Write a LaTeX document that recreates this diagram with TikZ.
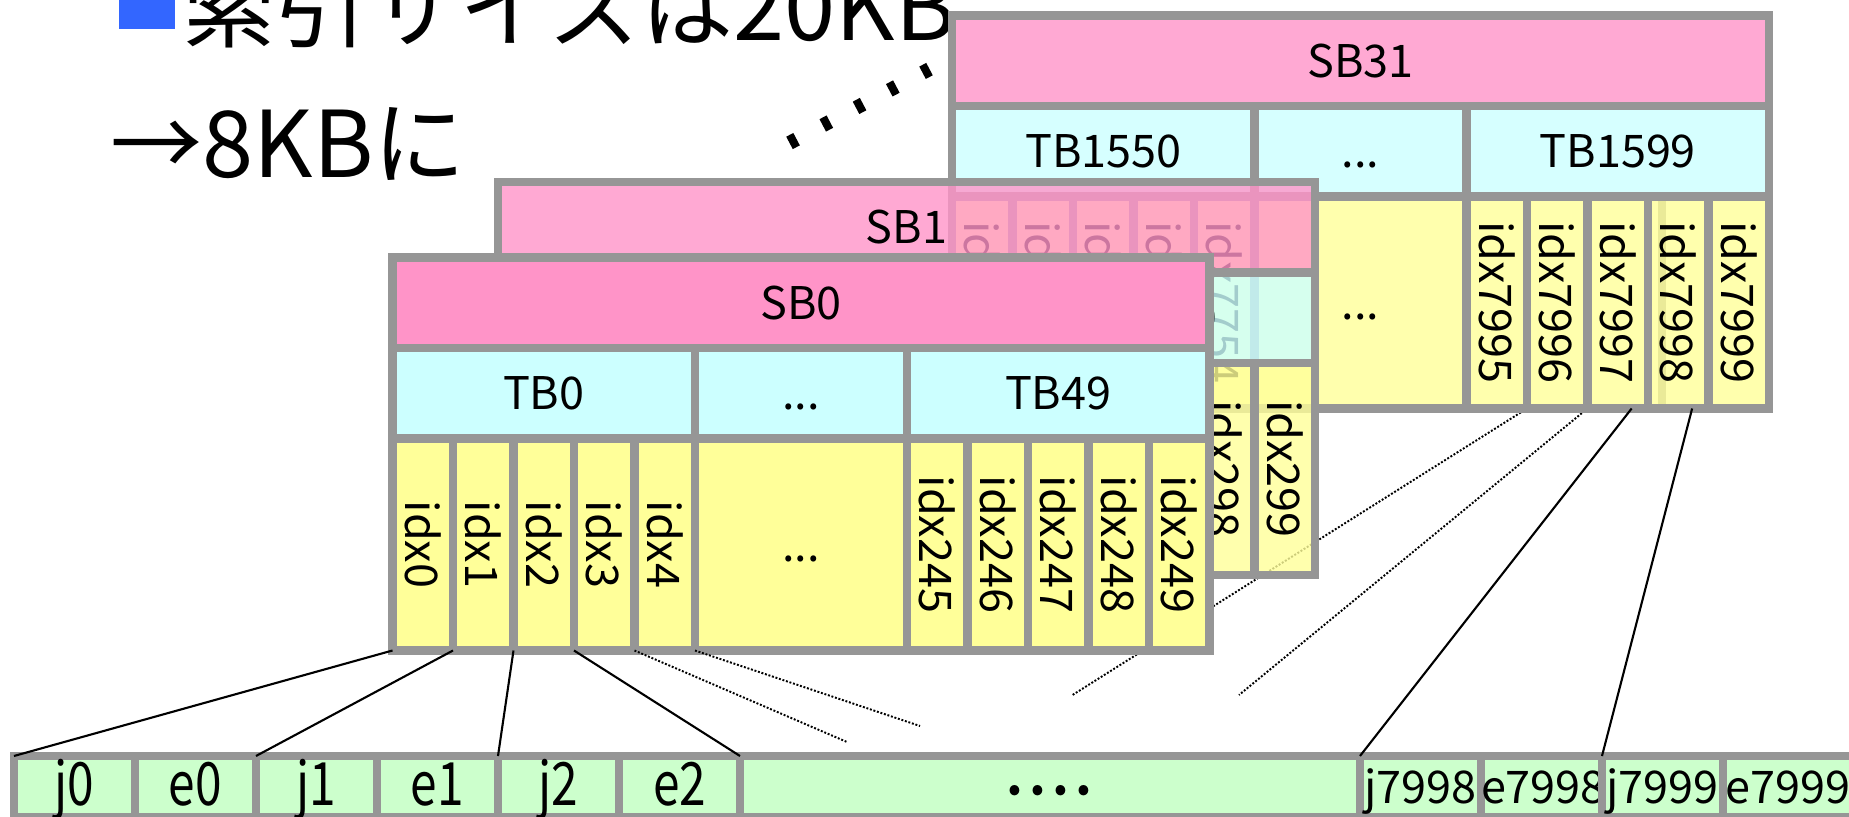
\documentclass[tikz,border=0pt]{standalone}
\usepackage{fontspec}
\setmainfont{Noto Sans CJK JP}
\newfontfamily\narrowfont[FakeStretch=0.8]{Noto Sans CJK JP}
\usetikzlibrary{calc, backgrounds}
\definecolor{sbpink}{HTML}{FF94C8}
\definecolor{tbcyan}{HTML}{CCFFFF}
\definecolor{idxyellow}{HTML}{FFFF99}
\definecolor{ejgreen}{HTML}{CCFFCC}
\definecolor{boxgray}{HTML}{969696}
\definecolor{bulletblue}{HTML}{3366FF}
\tikzset{
	cell/.style={draw=boxgray, line width=0.083cm, inner sep=0pt, outer sep=0pt,
		anchor=north west, text opacity=1, font=\fontsize{12.8}{15}\selectfont}
}
\tikzset{
	labelcell/.style={cell, text height=0.33cm, text depth=0pt}
}
\tikzset{
	wire/.style={line width=0.6pt},
	dotwire/.style={line width=0.55pt, dash pattern=on 0.55pt off 0.5pt}
}
\tikzset{
	headtext/.style={anchor=base west, inner sep=0pt, font=\fontsize{26.2}{32}\selectfont}
}

% one SB block: name, x, y, SB no., first TB, last TB, first idx, first of the last five idx
\newcommand{\sbblock}[8]{
  \begin{scope}[shift={(#2,#3)}]
    \node[labelcell, fill=sbpink, minimum width=8.17cm, minimum height=0.905cm] (#1) at (0,0) {SB#4};
    \node[labelcell, fill=tbcyan, minimum width=3.025cm, minimum height=0.905cm] (#1ta) at (0,-0.905) {TB#5};
    \node[labelcell, fill=tbcyan, minimum width=2.12cm, minimum height=0.905cm] (#1tm) at (3.025,-0.905) {...};
    \node[labelcell, fill=tbcyan, minimum width=3.025cm, minimum height=0.905cm] (#1tb) at (5.145,-0.905) {TB#6};
    \foreach \i in {0,...,4} {
      \pgfmathtruncatemacro{\idxno}{#7+\i}
      \node[cell, fill=idxyellow, minimum width=0.605cm, minimum height=2.12cm] (#1i\i) at (0.605*\i,-1.81) {\rotatebox{-90}{idx\idxno}};
    }
    \node[labelcell, fill=idxyellow, minimum width=2.12cm, minimum height=2.12cm] (#1m) at (3.025,-1.81) {...};
    \foreach \i in {5,...,9} {
      \pgfmathtruncatemacro{\idxno}{#8+\i-5}
      \node[cell, fill=idxyellow, minimum width=0.605cm, minimum height=2.12cm] (#1i\i) at (2.12+0.605*\i,-1.81) {\rotatebox{-90}{idx\idxno}};
    }
  \end{scope}
}

\begin{document}
\begin{tikzpicture}
  \useasboundingbox (0,0) rectangle (18.49,-8.17);
  \clip (0,0) rectangle (18.49,-8.17);
  % heading
  \fill[bulletblue] (1.19,0.3) rectangle (1.75,-0.29);
  \node[headtext] (head1) at (1.83,-0.40) {索引サイズは20KB};
  \node[headtext] (head2) at (1.10,-1.77) {→8KBに};
  % thick dots toward SB31
  \draw[line width=0.14cm, dash pattern=on 0.08cm off 0.296cm] (7.895,-1.429) -- (9.295,-0.691);
  % blocks, back to front
  \begin{scope}[fill opacity=0.8]
    \sbblock{sb31}{9.52}{-0.155}{31}{1550}{1599}{7750}{7995}
    \sbblock{sb1}{4.98}{-1.82}{1}{50}{99}{250}{295}
  \end{scope}
  \sbblock{sb0}{3.925}{-2.575}{0}{0}{49}{0}{245}
  % element row
  \foreach \nm/\x in {j0/0.14, e0/1.35, j1/2.56, e1/3.77, j2/4.98, e2/6.19} {
    \node[labelcell, fill=ejgreen, minimum width=1.21cm, minimum height=0.61cm,
      font=\narrowfont\fontsize{17}{20}\selectfont, text height=0.37cm] (\nm) at (\x,-7.56) {\nm};
  }
  \node[labelcell, fill=ejgreen, minimum width=6.2cm, minimum height=0.61cm,
    font=\fontsize{21}{24}\selectfont] (dots) at (7.40,-7.56)
    {\raisebox{-0.14cm}{·\kern-0.25em·\kern-0.25em·\kern-0.25em·}};
  \foreach \nm/\x/\w in {j7998/13.6/1.21, e7998/14.81/1.21, j7999/16.02/1.21, e7999/17.23/1.30} {
    \node[labelcell, fill=ejgreen, minimum width=\w cm, minimum height=0.61cm] (\nm) at (\x,-7.56) {\nm};
  }
  % links from SB0
  \draw[wire] (sb0i0.south west) -- (j0.north west);
  \draw[wire] (sb0i1.south west) -- (j1.north west);
  \draw[wire] (sb0i2.south west) -- (j2.north west);
  \draw[wire] (sb0i3.south west) -- (dots.north west);
  \coordinate (end4) at (8.47,-7.42);
  \coordinate (endm) at (9.20,-7.26);
  \draw[dotwire] (sb0i4.south west) -- (end4);
  \draw[dotwire] (sb0m.south west) -- (endm);
  % links from SB31
  \draw[wire] ($(sb31i7.south west)!0.73!(sb31i7.south east)$) -- (j7998.north west);
  \draw[wire] ($(sb31i8.south west)!0.73!(sb31i8.south east)$) -- (j7999.north west);
  \begin{scope}[on background layer]
    \fill[boxgray] (16.58,-1.98) rectangle (16.66,-4.05);
    \coordinate (end6) at (10.725,-6.95);
    \coordinate (end7) at (12.39,-6.95);
    \draw[dotwire] (sb31i6.south west) -- (end6);
    \draw[dotwire] (sb31i7.south west) -- (end7);
  \end{scope}
\end{tikzpicture}
\end{document}
